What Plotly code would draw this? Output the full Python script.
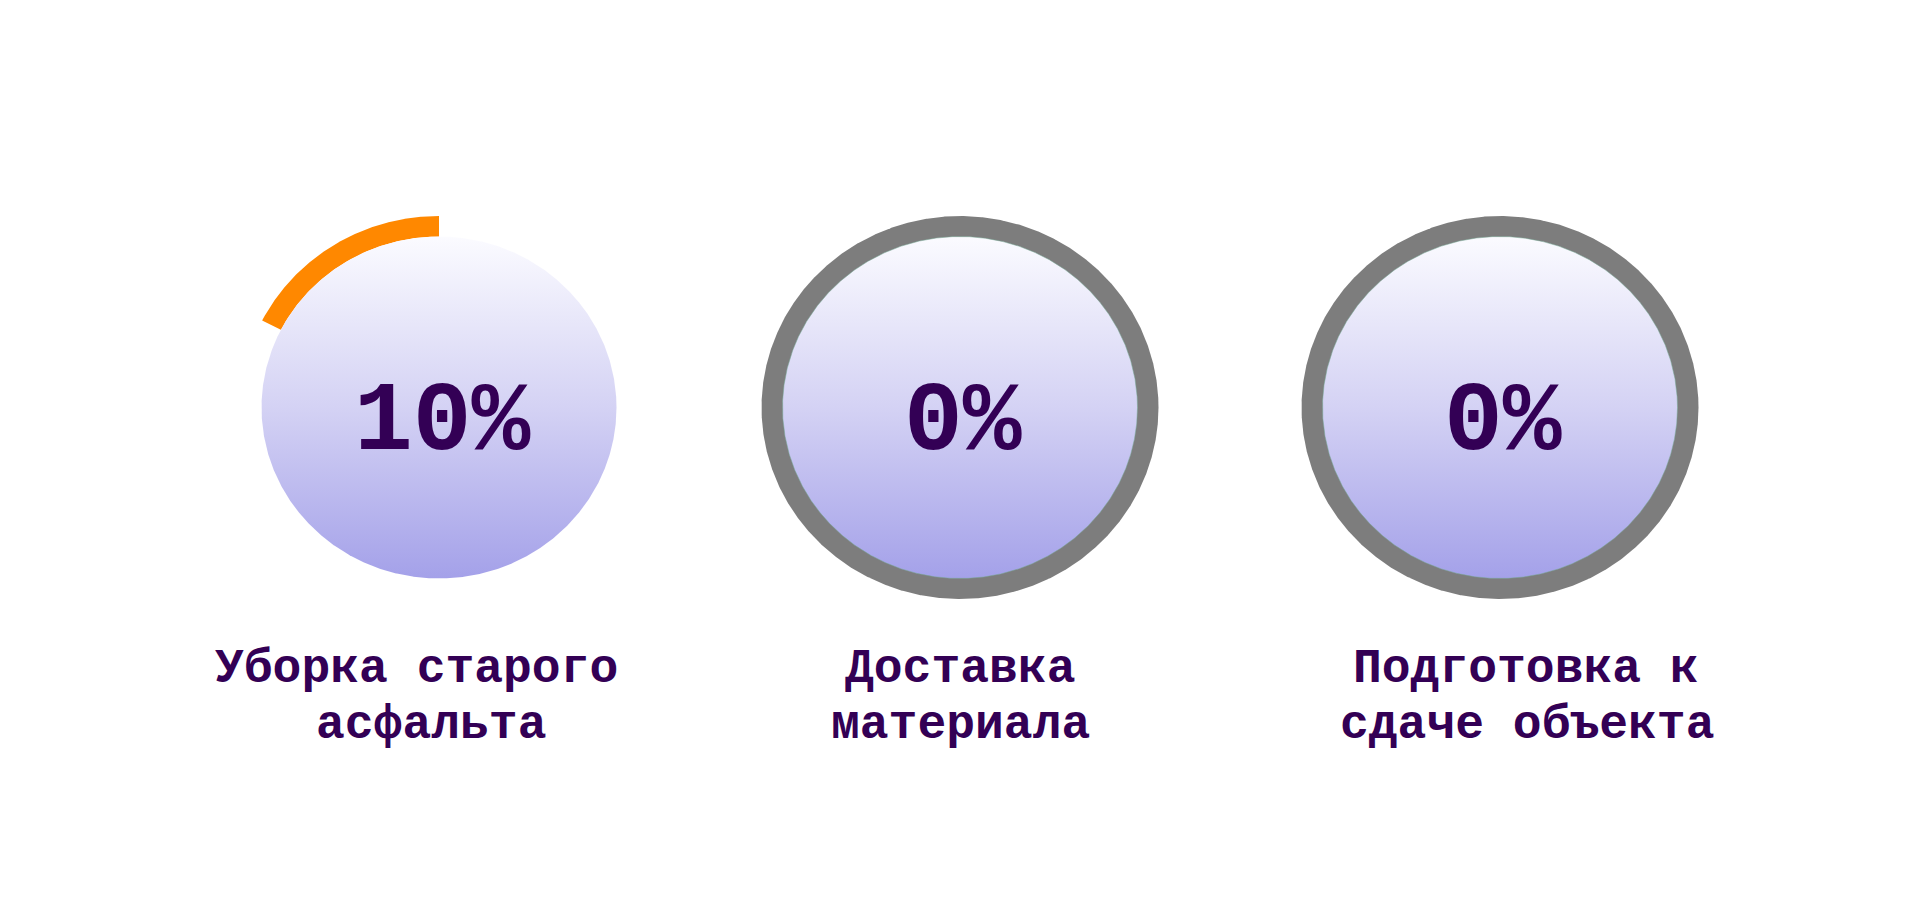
import numpy as np
import plotly.graph_objects as go

# ---- data ----
categories = [["Уборка старого", "асфальта"], ["Доставка", "материала"], ["Подготовка к", "сдаче объекта"]]
percent_values = [10, 0, 0]           # value printed in each circle
arc_drawn_deg = [63, 0, 0]            # orange progress arc as seen in the picture (degrees)
ring_visible = [False, True, True]    # grey track ring drawn?

# ---- layout / style ----
W, H = 1920, 900
centers_x = [439, 960, 1500]
center_y = 407.5
rx_out, ry_out = 198.5, 191.5
rx_in, ry_in = 177.5, 171.0
label_x = [[416, 431], [960, 960], [1526, 1527]]
label_y = [669, 725]
TEXT = "#330055"
GREY = "#7d7d7d"
ORANGE = "#ff8800"
FONT = "Liberation Mono"

fig = go.Figure()
t = np.linspace(0, 2 * np.pi, 1441)

for i, cx in enumerate(centers_x):
    if ring_visible[i]:
        fig.add_trace(go.Scatter(x=cx + rx_out * np.cos(t), y=center_y + ry_out * np.sin(t), mode="lines",
                                 fill="toself", fillcolor=GREY, line=dict(width=0),
                                 hoverinfo="skip", showlegend=False))
    # progress arc
    if arc_drawn_deg[i] > 0:
        a = np.radians(np.linspace(0, arc_drawn_deg[i], 300))
        xo = cx - rx_out * np.sin(a)
        yo = center_y - ry_out * np.cos(a)
        xi = cx - rx_in * np.sin(a[::-1])
        yi = center_y - ry_in * np.cos(a[::-1])
        fig.add_trace(go.Scatter(x=np.r_[xo, xi, xo[0]], y=np.r_[yo, yi, yo[0]], mode="lines",
                                 fill="toself", fillcolor=ORANGE, line=dict(width=0),
                                 hoverinfo="skip", showlegend=False))
    # inner gradient disc
    fig.add_trace(go.Scatter(x=cx + rx_in * np.cos(t), y=center_y + ry_in * np.sin(t), mode="lines",
                             fill="toself",
                             line=dict(width=1, color="rgba(120,170,150,0.5)" if ring_visible[i] else "rgba(0,0,0,0)"),
                             fillgradient=dict(type="vertical",
                                               colorscale=[[0, "#a4a1e9"], [0.5, "#d4d2f4"], [1, "#fbfbff"]]),
                             hoverinfo="skip", showlegend=False))

annotations = []
for i, cx in enumerate(centers_x):
    annotations.append(dict(x=cx + 3, y=center_y + 15, xref="x", yref="y", showarrow=False,
                            text=f"<b>{percent_values[i]}%</b>",
                            font=dict(family=FONT, size=98, color=TEXT),
                            xanchor="center", yanchor="middle"))
    for j, line in enumerate(categories[i]):
        annotations.append(dict(x=label_x[i][j], y=label_y[j], xref="x", yref="y", showarrow=False,
                                text=f"<b>{line}</b>",
                                font=dict(family=FONT, size=48, color=TEXT),
                                xanchor="center", yanchor="middle"))

fig.update_layout(width=W, height=H, margin=dict(l=0, r=0, t=0, b=0),
                  paper_bgcolor="white", plot_bgcolor="white",
                  xaxis=dict(range=[0, W], visible=False, fixedrange=True),
                  yaxis=dict(range=[H, 0], visible=False, fixedrange=True),
                  annotations=annotations)

fig.write_html("out.html", config={"displayModeBar": False, "staticPlot": True},
               post_script="document.body.style.margin='0';")
